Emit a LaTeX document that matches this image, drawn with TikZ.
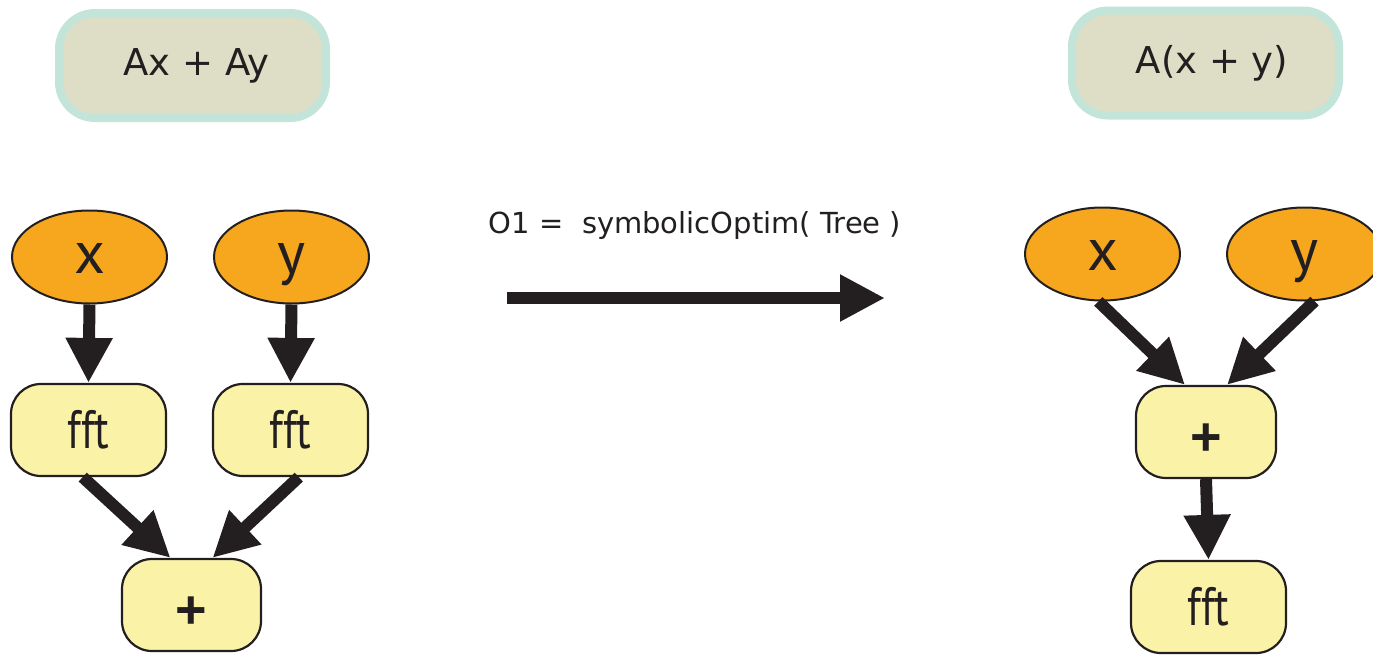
\documentclass[tikz,border=0pt]{standalone}
\usepackage{fontspec}
\setmainfont{DejaVu Sans}
\newfontfamily\nodefont{PT Sans}
\newfontfamily\opfont{Liberation Sans}
\usetikzlibrary{shapes.geometric,arrows.meta}

\definecolor{ink}{HTML}{231F20}
\definecolor{leaf}{HTML}{F7A71E}
\definecolor{opfill}{HTML}{FAF3A7}
\definecolor{exprfill}{HTML}{DEDDC5}
\definecolor{exprline}{HTML}{C3E4D9}

\tikzset{
  expr/.style={draw=exprline, line width=8pt, fill=exprfill, rounded corners=36pt,
    minimum width=267pt, minimum height=105pt, inner sep=0pt, text=ink,
    font=\fontsize{37}{40}\selectfont},
  leafnode/.style={ellipse, draw=ink, line width=2pt, fill=leaf, inner sep=0pt,
    minimum width=155pt, minimum height=93pt, text=ink,
    text height=32pt, text depth=0pt,
    font=\nodefont\fontsize{60}{60}\selectfont},
  opnode/.style={draw=ink, line width=2.2pt, fill=opfill, rounded corners=30pt,
    inner sep=0pt, minimum height=92pt, text=ink,
    font=\nodefont\fontsize{54}{54}\selectfont},
  plusnode/.style={opnode, text height=46pt, text depth=0pt,
    font=\opfont\bfseries\fontsize{54}{54}\selectfont},
  edge/.style={draw=ink, line width=12pt,
    -{Triangle[length=45pt,width=44pt]}},
}

\begin{document}
\begin{tikzpicture}[x=1pt,y=-1pt]
  \useasboundingbox (0,0) rectangle (1373,654);

  % expressions
  \node[expr] (lhs) at (192.5,65.5) {\hspace*{8pt}Ax + Ay};
  \node[expr] (rhs) at (1205.5,63) {\hspace*{13pt}A(x + y)};

  % tree before
  \node[leafnode] (lx) at (89.5,257) {x};
  \node[leafnode] (ly) at (291.5,257) {y};
  \node[opnode, minimum width=155pt] (f1) at (88.5,430) {\scalebox{0.8}[1]{fft}};
  \node[opnode, minimum width=155pt] (f2) at (290.5,430) {\scalebox{0.8}[1]{fft}};
  \node[plusnode, minimum width=139pt] (p1) at (191.5,605) {+};

  \draw[edge] (lx.south) -- (f1.north);
  \draw[edge] (ly.south) -- (f2.north);
  \draw[edge] (f1.263) -- (p1.114);
  \draw[edge] (f2.280) -- (p1.66);

  % transformation
  \node[text=ink, font=\fontsize{29}{32}\selectfont, anchor=base] (lab) at (695,233)
    {O1 =\ \ symbolicOptim( Tree )};
  \coordinate (ta) at (507,298);
  \coordinate (tb) at (885,298);
  \draw[edge] (ta) -- (tb);

  % tree after
  \node[leafnode] (rx) at (1102.5,254) {x};
  \node[leafnode] (ry) at (1304.5,254) {y};
  \node[plusnode, minimum width=140pt] (p2) at (1206,432) {+};
  \node[opnode, minimum width=155pt] (f3) at (1208.5,607) {\scalebox{0.8}[1]{fft}};

  \draw[edge] (rx.265) -- (p2.114);
  \draw[edge] (ry.282) -- (p2.66);
  \draw[edge] (p2.south) -- (f3.north);
\end{tikzpicture}
\end{document}
